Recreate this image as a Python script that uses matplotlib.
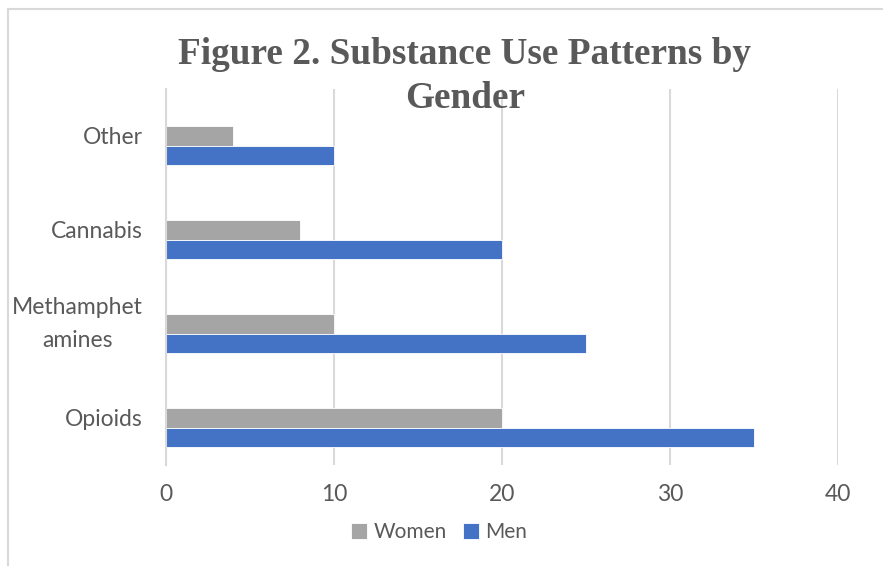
import matplotlib
matplotlib.use("Agg")
import matplotlib.pyplot as plt
from matplotlib.patches import Rectangle
import numpy as np

categories = ["Opioids", "Methamphet\namines", "Cannabis", "Other"]
women = [20, 10, 8, 4]
men = [35, 25, 20, 10]
xticks = [0, 10, 20, 30, 40]

W, H = 883, 566
fig = plt.figure(figsize=(W / 100, H / 100), dpi=100)

TEXT = "#595959"
GRID = "#D9D9D9"
GRAY = "#A5A5A5"
BLUE = "#4472C4"
FONT = "Lato"
FS = 16.5

# outer chart frame
fig.patches.append(Rectangle((8 / W, -0.1), 1.2, (H - 9) / H + 0.1,
                             transform=fig.transFigure, fill=False,
                             edgecolor=GRID, linewidth=1.5))

ax = fig.add_axes([166 / W, (H - 465) / H, (838 - 166) / W, (465 - 89) / H])

y = np.arange(len(categories))
h = 0.205
ax.barh(y, women, height=h, color=GRAY, edgecolor="white", linewidth=0.6,
        label="Women", zorder=3)
ax.barh(y - h, men, height=h, color=BLUE, edgecolor="white", linewidth=0.6,
        label="Men", zorder=3)

ax.set_xlim(0, 40)
ax.set_ylim(-0.5, len(categories) - 0.5)
ax.set_xticks(xticks)
ax.set_xticklabels([str(t) for t in xticks], fontsize=FS, color=TEXT,
                   family=FONT)
ax.set_yticks(y)
labels = ax.set_yticklabels(categories, fontsize=FS, color=TEXT, family=FONT,
                            ha="right", multialignment="center",
                            linespacing=1.75)
for lab in labels:
    lab.set_va("center" if "\n" in lab.get_text() else "center_baseline")
ax.tick_params(axis="y", length=0, pad=16.5)
ax.tick_params(axis="x", length=0, pad=14)

ax.grid(axis="x", color=GRID, linewidth=1.5, zorder=0)
for s in ["top", "right", "bottom"]:
    ax.spines[s].set_visible(False)
ax.spines["left"].set_color(GRID)
ax.spines["left"].set_linewidth(1.5)
ax.spines["left"].set_zorder(4)

fig.text(465 / W, 1 - 55 / H, "Figure 2. Substance Use Patterns by",
         ha="center", va="center", fontsize=26.8, fontweight="bold",
         family="Liberation Serif", color=TEXT)
fig.text(465 / W, 1 - 98 / H, "Gender",
         ha="center", va="center", fontsize=26.8, fontweight="bold",
         family="Liberation Serif", color=TEXT)

leg = fig.legend(loc="center", bbox_to_anchor=(439 / W, 1 - 532 / H),
                 ncol=2, frameon=False, handlelength=0.8, handleheight=0.8,
                 handletextpad=0.3, columnspacing=0.75,
                 prop={"family": FONT, "size": 15})
for t in leg.get_texts():
    t.set_color(TEXT)

fig.savefig("out.png", dpi=100)
